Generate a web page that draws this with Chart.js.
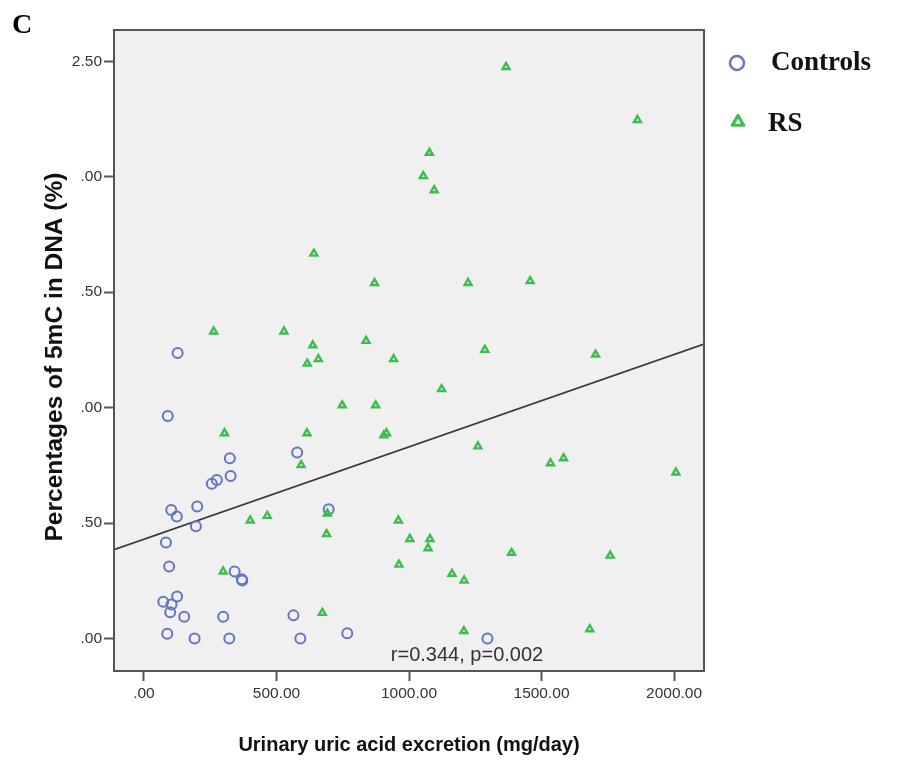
<!DOCTYPE html>
<html>
<head>
<meta charset="utf-8">
<title>5mC vs urinary uric acid excretion</title>
<script src="https://cdn.jsdelivr.net/npm/chart.js@4.4.1/dist/chart.umd.min.js"></script>
<style>
  html, body { margin: 0; padding: 0; background: #ffffff; }
  canvas { display: block; }
</style>
</head>
<body>
<canvas id="chart" width="921" height="761"></canvas>
<script>
// Controls: urinary uric acid excretion (mg/day) and 5mC percentage
const controlsX = [127, 90, 324, 578, 327, 275, 256, 697, 103, 201, 124, 196, 83, 95, 342, 369, 371, 125, 73, 104, 99, 152, 299, 564, 88, 191, 322, 590, 767, 1296];
const controlsY = [1.237, 0.964, 0.781, 0.806, 0.704, 0.686, 0.670, 0.560, 0.557, 0.572, 0.528, 0.486, 0.416, 0.312, 0.290, 0.257, 0.251, 0.182, 0.159, 0.147, 0.113, 0.094, 0.094, 0.100, 0.020, 0.000, 0.000, 0.000, 0.023, 0.000];

// RS group
const rsX = [1366, 1862, 1077, 1054, 1095, 641, 870, 1223, 1457, 263, 528, 637, 838, 658, 616, 942, 1286, 1704, 1123, 748, 874, 304, 905, 915, 615, 1260, 593, 1534, 1583, 2007, 401, 465, 692, 689, 960, 1003, 1079, 1072, 1387, 962, 1759, 1162, 1208, 299, 673, 1207, 1682];
const rsY = [2.476, 2.246, 2.104, 2.003, 1.942, 1.667, 1.540, 1.540, 1.548, 1.330, 1.330, 1.270, 1.289, 1.210, 1.191, 1.210, 1.250, 1.230, 1.080, 1.010, 1.010, 0.889, 0.880, 0.889, 0.889, 0.832, 0.751, 0.759, 0.781, 0.719, 0.511, 0.531, 0.541, 0.452, 0.511, 0.431, 0.431, 0.391, 0.371, 0.320, 0.359, 0.280, 0.251, 0.290, 0.111, 0.032, 0.040];

// Tick positions and their printed labels
const xTickValues = [0, 500, 1000, 1500, 2000];
const xTickLabels = ['.00', '500.00', '1000.00', '1500.00', '2000.00'];
const yTickValues = [0, 0.5, 1, 1.5, 2, 2.5];
const yTickLabels = ['.00', '.50', '.00', '.50', '.00', '2.50'];

// Axis extents
const xRange = [-113, 2113];
const yRange = [-0.141, 2.636];

// Linear fit over all subjects
const fitIntercept = 0.43;
const fitSlope = 0.0004;

// Texts
const panelLetter = 'C';
const xTitle = 'Urinary uric acid excretion (mg/day)';
const yTitle = 'Percentages of 5mC in DNA (%)';
const statsText = 'r=0.344, p=0.002';
const seriesNames = ['Controls', 'RS'];

const BLUE = '#6474c6';
const GREEN = '#3cbd50';
const AXIS = '#555555';
const TEXT = '#333333';

const toPoints = (xs, ys) => xs.map((x, i) => ({ x: x, y: ys[i] }));
const fitPoints = xRange.map(x => ({ x: x, y: fitIntercept + fitSlope * x }));

const decorations = {
  id: 'decorations',
  beforeDatasetsDraw(chart) {
    const { ctx, chartArea: a } = chart;
    ctx.save();
    ctx.fillStyle = '#f0f0f0';
    ctx.fillRect(a.left, a.top, a.right - a.left, a.bottom - a.top);
    ctx.restore();
  },
  afterDraw(chart) {
    const { ctx, chartArea: a } = chart;
    ctx.save();

    // frame round the plot area
    ctx.strokeStyle = AXIS;
    ctx.lineWidth = 2;
    ctx.strokeRect(a.left, a.top, a.right - a.left, a.bottom - a.top);

    // statistics note
    ctx.fillStyle = TEXT;
    ctx.font = '20px "Liberation Sans", Arial, sans-serif';
    ctx.textAlign = 'center';
    ctx.textBaseline = 'alphabetic';
    ctx.fillText(statsText, 467, 661);

    // axis titles
    ctx.fillStyle = '#111111';
    ctx.font = 'bold 20px "Liberation Sans", Arial, sans-serif';
    ctx.textBaseline = 'middle';
    ctx.fillText(xTitle, (a.left + a.right) / 2, 745);

    ctx.save();
    ctx.translate(55, 357);
    ctx.rotate(-Math.PI / 2);
    ctx.font = 'bold 24.5px "Liberation Sans", Arial, sans-serif';
    ctx.fillText(yTitle, 0, 0);
    ctx.restore();

    // panel letter
    ctx.fillStyle = '#000000';
    ctx.font = 'bold 28px "Liberation Serif", "Times New Roman", serif';
    ctx.textAlign = 'left';
    ctx.textBaseline = 'alphabetic';
    ctx.fillText(panelLetter, 12, 33);

    // legend
    ctx.strokeStyle = BLUE;
    ctx.lineWidth = 2.5;
    ctx.beginPath();
    ctx.arc(737, 63, 7, 0, Math.PI * 2);
    ctx.stroke();

    ctx.strokeStyle = GREEN;
    ctx.lineWidth = 3.2;
    ctx.lineJoin = 'round';
    const r = 6.5, cx = 738, cy = 122;
    ctx.beginPath();
    for (let k = 0; k < 3; k++) {
      const ang = -Math.PI / 2 + k * 2 * Math.PI / 3;
      const px = cx + r * Math.cos(ang), py = cy + r * Math.sin(ang);
      if (k === 0) ctx.moveTo(px, py); else ctx.lineTo(px, py);
    }
    ctx.closePath();
    ctx.stroke();

    ctx.fillStyle = '#111111';
    ctx.font = 'bold 27px "Liberation Serif", "Times New Roman", serif';
    ctx.fillText(seriesNames[0], 771, 70);
    ctx.fillText(seriesNames[1], 768, 131);

    ctx.restore();
  }
};

new Chart(document.getElementById('chart'), {
  type: 'scatter',
  data: {
    datasets: [
      {
        type: 'line',
        label: 'fit',
        data: fitPoints,
        borderColor: '#3a3a3a',
        borderWidth: 1.6,
        pointRadius: 0,
        fill: false,
        order: 3
      },
      {
        label: seriesNames[0],
        data: toPoints(controlsX, controlsY),
        pointStyle: 'circle',
        pointRadius: 5,
        borderWidth: 2,
        borderColor: BLUE,
        backgroundColor: 'rgba(0,0,0,0)',
        order: 2
      },
      {
        label: seriesNames[1],
        data: toPoints(rsX, rsY),
        pointStyle: 'triangle',
        pointRadius: 4,
        borderWidth: 2.4,
        borderColor: GREEN,
        backgroundColor: 'rgba(0,0,0,0)',
        order: 1
      }
    ]
  },
  options: {
    responsive: false,
    animation: false,
    events: [],
    layout: { padding: { left: 0, top: 30, right: 217, bottom: 0 } },
    plugins: {
      legend: { display: false },
      tooltip: { enabled: false }
    },
    scales: {
      x: {
        type: 'linear',
        min: xRange[0],
        max: xRange[1],
        afterBuildTicks: s => { s.ticks = xTickValues.map(v => ({ value: v })); },
        afterFit: s => { s.height = 90; },
        border: { display: false },
        grid: {
          display: true,
          drawOnChartArea: false,
          drawTicks: true,
          tickLength: 10,
          tickWidth: 2,
          tickColor: AXIS
        },
        ticks: {
          padding: 3,
          color: TEXT,
          font: { family: '"Liberation Sans", Arial, sans-serif', size: 15.5 },
          maxRotation: 0,
          callback: (v, i) => xTickLabels[i]
        }
      },
      y: {
        type: 'linear',
        min: yRange[0],
        max: yRange[1],
        afterBuildTicks: s => { s.ticks = yTickValues.map(v => ({ value: v })); },
        afterFit: s => { s.width = 114; },
        border: { display: false },
        grid: {
          display: true,
          drawOnChartArea: false,
          drawTicks: true,
          tickLength: 10,
          tickWidth: 2,
          tickColor: AXIS
        },
        ticks: {
          padding: 2,
          color: TEXT,
          font: { family: '"Liberation Sans", Arial, sans-serif', size: 15.5 },
          callback: (v, i) => yTickLabels[i]
        }
      }
    }
  },
  plugins: [decorations]
});
</script>
</body>
</html>
